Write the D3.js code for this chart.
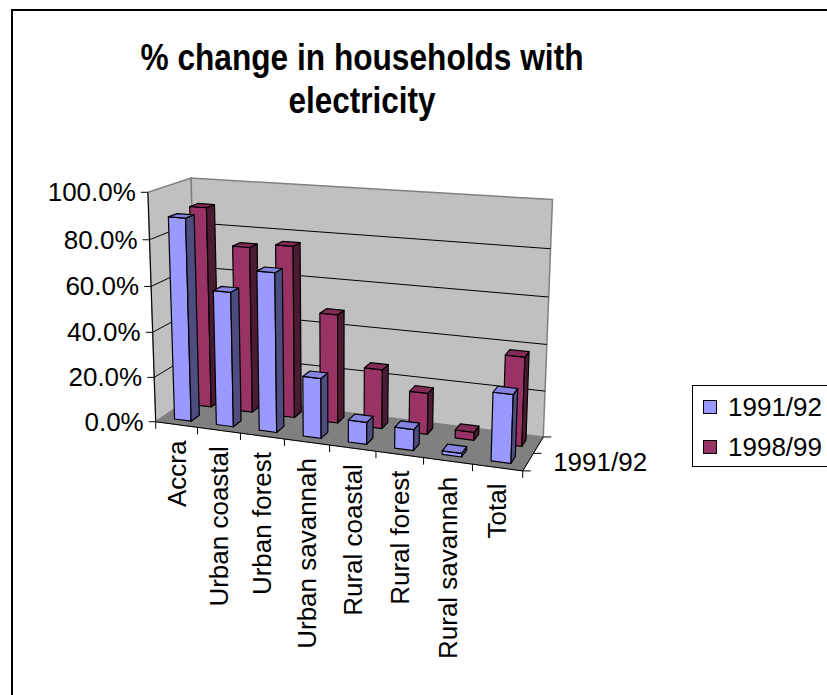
<!DOCTYPE html>
<html><head><meta charset="utf-8">
<script src="https://cdn.jsdelivr.net/npm/d3@7"></script>
<style>body{margin:0;background:#fff} svg{display:block}</style>
</head><body>
<svg id="c" width="827" height="695"></svg>
<script>
// ---- data ----
const categories = ["Accra","Urban coastal","Urban forest","Urban savannah","Rural coastal","Rural forest","Rural savannah","Total"];
const series = ["1991/92","1998/99"];
const values1991 = [0.89,0.59,0.69,0.26,0.095,0.09,0.015,0.285];
const values1998 = [0.90,0.74,0.76,0.48,0.26,0.18,0.035,0.38];
const valueTicks = [0,0.2,0.4,0.6,0.8,1.0];
const titleLines = ["% change in households with","electricity"];

// ---- styles ----
const seriesColors = {
  "1991/92": {front:"#9999FF", side:"#4D4D80", top:"#8585E0"},
  "1998/99": {front:"#993366", side:"#4D1A33", top:"#842C58"}
};
const FONT = "'Liberation Sans', Arial, sans-serif";

// ---- projection fitted to the frame corners (layout) ----
const anchors = [
  [0,1,0,148,193],[0,0.8,0,149.5,239],[0,0.6,0,151,286],[0,0.4,0,152.5,332],[0,0.2,0,154.5,378],[0,0,0,156,422],
  [0,1,1,191,178],[1,1,1,552,199],[1,0.8,1,551,250],[1,0.6,1,549,297],[1,0.4,1,547,344],[1,0.2,1,545,391],[1,0,1,543,437],
  [1,0,0,523,471],[0.25,0,0,240,433],[0.5,0,0,330,445],[0.75,0,0,423,457.5]
];
function fitProjection(pts){
  const A=[], b=[];
  pts.forEach(([X,Y,Z,u,v])=>{
    A.push([X,Y,Z,1,0,0,0,0,-u*X,-u*Y,-u*Z]); b.push(u);
    A.push([0,0,0,0,X,Y,Z,1,-v*X,-v*Y,-v*Z]); b.push(v);
  });
  const n=11; const M=[...Array(n)].map(()=>new Array(n+1).fill(0));
  for(let r=0;r<A.length;r++) for(let i=0;i<n;i++){ for(let j=0;j<n;j++) M[i][j]+=A[r][i]*A[r][j]; M[i][n]+=A[r][i]*b[r]; }
  for(let i=0;i<n;i++){
    let p=i; for(let k=i+1;k<n;k++) if(Math.abs(M[k][i])>Math.abs(M[p][i])) p=k;
    [M[i],M[p]]=[M[p],M[i]];
    for(let k=0;k<n;k++){ if(k===i) continue; const f=M[k][i]/M[i][i]; for(let j=i;j<=n;j++) M[k][j]-=f*M[i][j]; }
  }
  const p=M.map((row,i)=>row[n]/row[i]);
  return ([X,Y,Z])=>{ const w=p[8]*X+p[9]*Y+p[10]*Z+1; return [(p[0]*X+p[1]*Y+p[2]*Z+p[3])/w,(p[4]*X+p[5]*Y+p[6]*Z+p[7])/w]; };
}
const proj = fitProjection(anchors);

// ---- scales (world units 0..1) ----
const xBar = d3.scaleBand().domain(categories).range([0,1]).paddingInner(0.6).paddingOuter(0.3);
const xCat = d3.scaleBand().domain(categories).range([0,1]);
const zBar = d3.scaleBand().domain(series).range([0,1]).paddingInner(0.6).paddingOuter(0.3);
const zCat = d3.scaleBand().domain(series).range([0,1]);
const y = d3.scaleLinear().domain([0,1]).range([0,1]);
const fmt = d3.format(".1%");

const svg = d3.select("#c");
const line = d3.line();
const poly = pts => line(pts.map(proj)) + "Z";

// outer frame
svg.append("rect").attr("x",12).attr("y",10).attr("width",900).attr("height",900)
  .attr("fill","#fff").attr("stroke","#000").attr("stroke-width",2);

// title
svg.append("g").selectAll("text").data(titleLines).join("text")
  .attr("x",362).attr("y",(d,i)=>70+i*43)
  .attr("text-anchor","middle").attr("font-family",FONT).attr("font-weight","bold")
  .attr("font-size",37)
  .attr("textLength",(d,i)=>i===0?443:147).attr("lengthAdjust","spacingAndGlyphs")
  .text(d=>d);

// walls & floor
const g3 = svg.append("g");
g3.append("path").attr("d",poly([[0,0,0],[1,0,0],[1,0,1],[0,0,1]])).attr("fill","#808080").attr("stroke","#808080");
g3.append("path").attr("d",poly([[0,0,0],[0,1,0],[0,1,1],[0,0,1]])).attr("fill","#C0C0C0").attr("stroke","#808080").attr("stroke-width",1.5);
g3.append("path").attr("d",poly([[0,0,1],[0,1,1],[1,1,1],[1,0,1]])).attr("fill","#C0C0C0").attr("stroke","#808080").attr("stroke-width",1.5);

// gridlines
const gl = valueTicks.filter(t=>t>0 && t<1);
g3.append("g").selectAll("path").data(gl).join("path")
  .attr("d",t=>line([[0,y(t),0],[0,y(t),1],[1,y(t),1]].map(proj)))
  .attr("fill","none").attr("stroke","#000").attr("stroke-width",1);

// bars
const bars = [];
series.forEach((s,j)=>{
  const vals = j===0?values1991:values1998;
  categories.forEach((c,i)=>bars.push({s,c,v:vals[i],j,i}));
});
bars.sort((a,b)=> (b.j-a.j) || (a.i-b.i));
function area(pts){ let s=0; for(let k=0;k<pts.length;k++){const p=pts[k],q=pts[(k+1)%pts.length]; s+=p[0]*q[1]-q[0]*p[1];} return s; }
const gb = g3.append("g");
bars.forEach(b=>{
  const a=xBar(b.c), bb=a+xBar.bandwidth(), c0=y(0), d=y(b.v), e=zBar(b.s), f=e+zBar.bandwidth();
  const col = seriesColors[b.s];
  const faces = [
    {k:"front", v:[[a,c0,e],[a,d,e],[bb,d,e],[bb,c0,e]], fill:col.front},
    {k:"back",  v:[[a,c0,f],[bb,c0,f],[bb,d,f],[a,d,f]], fill:col.side},
    {k:"left",  v:[[a,c0,e],[a,c0,f],[a,d,f],[a,d,e]], fill:col.side},
    {k:"right", v:[[bb,c0,e],[bb,d,e],[bb,d,f],[bb,c0,f]], fill:col.side},
    {k:"bottom",v:[[a,c0,e],[bb,c0,e],[bb,c0,f],[a,c0,f]], fill:col.top},
    {k:"top",   v:[[a,d,e],[a,d,f],[bb,d,f],[bb,d,e]], fill:col.top}
  ];
  const sf = Math.sign(area(faces[0].v.map(proj)));
  const g = gb.append("g");
  faces.forEach(fc=>{
    const pp = fc.v.map(proj);
    if(Math.sign(area(pp))!==sf) return;
    g.append("path").attr("d",line(pp)+"Z").attr("fill",fc.fill)
      .attr("stroke","#000").attr("stroke-width",1.2).attr("stroke-linejoin","round");
  });
});

// value axis
const ga = svg.append("g").attr("font-family",FONT).attr("font-size",26);
ga.append("path").attr("d",line([[0,0,0],[0,1,0]].map(proj))).attr("stroke","#000").attr("fill","none");
valueTicks.forEach(t=>{
  const [u,v]=proj([0,y(t),0]);
  ga.append("line").attr("x1",u-7).attr("x2",u).attr("y1",v).attr("y2",v).attr("stroke","#000");
  ga.append("text").attr("x",u-12).attr("y",v).attr("text-anchor","end").attr("dominant-baseline","central").text(fmt(t));
});

// category axis
ga.append("path").attr("d",line([[0,0,0],[1,0,0]].map(proj))).attr("stroke","#000").attr("fill","none");
d3.range(categories.length+1).forEach(k=>{
  const [u,v]=proj([k/categories.length,0,0]);
  ga.append("line").attr("x1",u).attr("x2",u).attr("y1",v).attr("y2",v+7).attr("stroke","#000");
});
categories.forEach(c=>{
  const [u,v]=proj([xCat(c)+xCat.bandwidth()/2,0,0]);
  ga.append("text").attr("transform",`translate(${u},${v+16}) rotate(-90)`)
    .attr("text-anchor","end").attr("dominant-baseline","central").text(c);
});

// depth (series) axis
ga.append("path").attr("d",line([[1,0,0],[1,0,1]].map(proj))).attr("stroke","#000").attr("fill","none");
d3.range(series.length+1).forEach(k=>{
  const [u,v]=proj([1,0,k/series.length]);
  ga.append("line").attr("x1",u).attr("x2",u+8).attr("y1",v).attr("y2",v).attr("stroke","#000");
});
series.forEach((s,j)=>{
  if(j%2) return;
  const [u,v]=proj([1,0,zCat(s)+zCat.bandwidth()/2]);
  ga.append("text").attr("x",u+25).attr("y",v).attr("dominant-baseline","central").text(s);
});

// legend
const lg = svg.append("g").attr("font-family",FONT).attr("font-size",26);
lg.append("rect").attr("x",692.5).attr("y",385.5).attr("width",140).attr("height",81).attr("fill","#fff").attr("stroke","#000");
series.forEach((s,j)=>{
  const cy = 407+j*40;
  lg.append("rect").attr("x",703.5).attr("y",cy-6.5).attr("width",13).attr("height",13)
    .attr("fill",seriesColors[s].front).attr("stroke","#000");
  lg.append("text").attr("x",728).attr("y",cy).attr("dominant-baseline","central").text(s);
});
</script>
</body></html>
